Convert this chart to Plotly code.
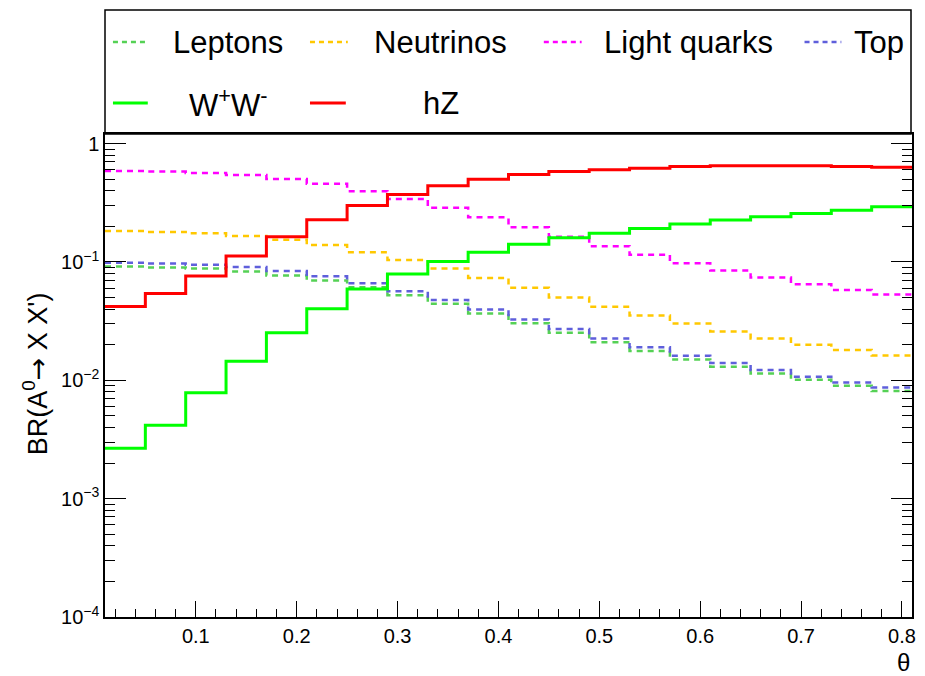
import plotly.graph_objects as go

# ---------------- data ----------------
bin_edges = [0.01, 0.05, 0.09, 0.13, 0.17, 0.21, 0.25, 0.29, 0.33, 0.37, 0.41,
             0.45, 0.49, 0.53, 0.57, 0.61, 0.65, 0.69, 0.73, 0.77, 0.81]

leptons = [0.0913, 0.0896, 0.0879, 0.0830, 0.0767, 0.0697, 0.0612, 0.0524, 0.0443, 0.0367,
           0.0304, 0.0252, 0.0210, 0.0177, 0.0150, 0.0130, 0.0114, 0.0101, 0.0090, 0.0081]
neutrinos = [0.1825, 0.179, 0.1745, 0.1656, 0.154, 0.139, 0.121, 0.104, 0.088, 0.0733,
             0.0604, 0.050, 0.0418, 0.0353, 0.0302, 0.0259, 0.0226, 0.020, 0.018, 0.0162]
light_quarks = [0.588, 0.58, 0.565, 0.544, 0.503, 0.457, 0.396, 0.34, 0.287, 0.238,
                0.196, 0.163, 0.136, 0.115, 0.0975, 0.0845, 0.0738, 0.0649, 0.058, 0.053]
top = [0.0986, 0.0968, 0.0949, 0.0907, 0.084, 0.0757, 0.0661, 0.0566, 0.0478, 0.0396,
       0.0327, 0.0271, 0.0226, 0.019, 0.0161, 0.014, 0.0122, 0.0107, 0.0096, 0.0087]
ww = [0.00267, 0.00418, 0.00783, 0.01445, 0.0252, 0.0402, 0.059, 0.079, 0.1007, 0.121,
      0.141, 0.160, 0.175, 0.192, 0.209, 0.226, 0.241, 0.257, 0.274, 0.292]
hz = [0.042, 0.054, 0.076, 0.112, 0.163, 0.227, 0.30, 0.372, 0.44, 0.50,
      0.548, 0.58, 0.60, 0.62, 0.64, 0.65, 0.65, 0.65, 0.64, 0.63]

series_names = ["Leptons", "Neutrinos", "Light quarks", "Top", "W<sup>+</sup>W<sup>-</sup>", "hZ"]
series_values = [leptons, neutrinos, light_quarks, top, ww, hz]

x_tick_vals = [0.1, 0.2, 0.3, 0.4, 0.5, 0.6, 0.7, 0.8]
x_tick_text = ["0.1", "0.2", "0.3", "0.4", "0.5", "0.6", "0.7", "0.8"]
y_tick_vals = [1e-4, 1e-3, 1e-2, 1e-1, 1]
y_tick_text = ["10<sup>\u22124</sup>", "10<sup>\u22123</sup>", "10<sup>\u22122</sup>",
               "10<sup>\u22121</sup>", "1"]
y_minor_vals = [m * 10.0 ** k for k in range(-4, 0) for m in range(2, 10)]

# ---------------- styling ----------------
colors = ["#55d155", "#ffc800", "#ff00ff", "#5f5fdb", "#00ff00", "#ff0000"]
dashed = [True, True, True, True, False, False]
FONT = "Liberation Sans, Arial, Helvetica, sans-serif"

W, H = 925, 676
ML, MR, MT, MB = 105, 9, 134, 59
PW, PH = W - ML - MR, H - MT - MB


def px_x(px):
    return (px - ML) / PW


def px_y(py):
    return (H - MB - py) / PH


fig = go.Figure()
for name, vals, col, d in zip(series_names, series_values, colors, dashed):
    fig.add_trace(go.Scatter(
        x=bin_edges, y=list(vals) + [vals[-1]], mode="lines", line_shape="hv",
        name=name,
        line=dict(color=col, width=2.5 if d else 3, dash="6px,5px" if d else "solid"),
        showlegend=False, hoverinfo="skip"))

# ---------------- legend (ROOT TLegend style box) ----------------
shapes = [dict(type="rect", xref="paper", yref="paper",
               x0=px_x(105), x1=px_x(915), y0=px_y(134), y1=px_y(10),
               line=dict(color="black", width=1.5), fillcolor="white", layer="below")]
annotations = []
legend_items = [
    # (series index, sample x0, sample x1, text x, row y)
    (0, 113, 148, 171, 42),
    (1, 311, 349, 373, 42),
    (2, 546, 584, 604, 42),
    (3, 808, 845, 856, 42),
    (4, 113, 148, 187, 103),
    (5, 311, 347, 423, 103),
]
for idx, sx0, sx1, tx, ry in legend_items:
    shapes.append(dict(type="line", xref="paper", yref="paper",
                       x0=px_x(sx0), x1=px_x(sx1), y0=px_y(ry), y1=px_y(ry),
                       line=dict(color=colors[idx], width=2.5 if dashed[idx] else 3,
                                 dash="5px,4px" if dashed[idx] else "solid")))
    annotations.append(dict(xref="paper", yref="paper", x=px_x(tx), y=px_y(ry),
                            xanchor="left", yanchor="middle", showarrow=False,
                            text=series_names[idx],
                            font=dict(family=FONT, size=31, color="black")))

# axis titles
annotations.append(dict(xref="paper", yref="paper", x=px_x(35), y=px_y(374),
                        xanchor="center", yanchor="middle", showarrow=False,
                        textangle=-90,
                        text="BR(A<sup>0</sup><span style=\"font-family:'DejaVu Sans'\">\u2192</span> X X')",
                        font=dict(family=FONT, size=27, color="black")))
annotations.append(dict(xref="paper", yref="paper", x=1, y=px_y(662),
                        xanchor="right", yanchor="middle", showarrow=False,
                        text="\u03b8", font=dict(family=FONT, size=24, color="black")))

fig.update_layout(
    width=W, height=H,
    margin=dict(l=ML, r=MR, t=MT, b=MB, pad=0),
    paper_bgcolor="white", plot_bgcolor="white",
    showlegend=False,
    font=dict(family=FONT, size=20, color="black"),
    shapes=shapes, annotations=annotations,
    xaxis=dict(range=[0.01, 0.81], showgrid=False, zeroline=False,
               showline=True, linecolor="black", linewidth=1.5, mirror=True,
               ticks="inside", ticklen=16, tickwidth=1.2, tickcolor="black",
               tickvals=x_tick_vals, ticktext=x_tick_text,
               tickfont=dict(family=FONT, size=20, color="black"),
               minor=dict(ticks="inside", ticklen=8, tickwidth=1.2, tickcolor="black",
                          dtick=0.02, tick0=0.0, showgrid=False)),
    yaxis=dict(type="log", range=[-4, 0.081], showgrid=False, zeroline=False,
               showline=True, linecolor="black", linewidth=1.5, mirror="ticks",
               ticks="inside", ticklen=21, tickwidth=1.2, tickcolor="black",
               tickvals=y_tick_vals, ticktext=y_tick_text,
               tickfont=dict(family=FONT, size=20, color="black"),
               minor=dict(ticks="inside", ticklen=10, tickwidth=1.2, tickcolor="black",
                          tickvals=y_minor_vals, showgrid=False)),
)

fig.write_html("out.html")
